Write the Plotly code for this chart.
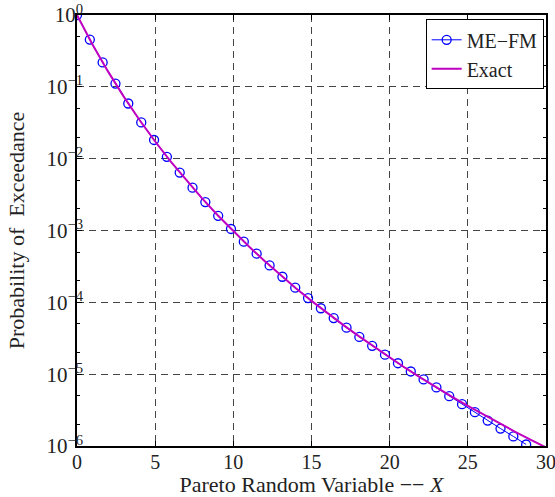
import plotly.graph_objects as go

# ME-FM approximation (markers)
x_mefm = [0, 0.82, 1.64, 2.46, 3.28, 4.11, 4.93, 5.75, 6.57, 7.39, 8.21, 9.03,
          9.85, 10.67, 11.49, 12.32, 13.14, 13.96, 14.78, 15.60, 16.42, 17.24,
          18.06, 18.88, 19.70, 20.53, 21.35, 22.17, 22.99, 23.81, 24.63, 25.45,
          26.27, 27.09, 27.91, 28.73]
y_mefm = [1.0, 0.455, 0.219, 0.111, 0.0586, 0.0320, 0.0182, 0.0106, 0.0064,
          0.00395, 0.00249, 0.00160, 0.00105, 7.0e-4, 4.76e-4, 3.26e-4, 2.27e-4,
          1.60e-4, 1.146e-4, 8.27e-5, 6.03e-5, 4.44e-5, 3.30e-5, 2.48e-5, 1.87e-5,
          1.42e-5, 1.09e-5, 8.45e-6, 6.53e-6, 4.94e-6, 3.82e-6, 2.96e-6, 2.26e-6,
          1.75e-6, 1.36e-6, 1.05e-6]

# Exact curve
x_exact = list(range(0, 31))
y_exact = [1.0, 0.3855, 0.1615, 0.07254, 0.03457, 0.01734, 0.009095, 0.004958,
           0.002803, 0.001631, 9.766e-4, 5.992e-4, 3.761e-4, 2.410e-4, 1.574e-4,
           1.049e-4, 7.105e-5, 4.889e-5, 3.412e-5, 2.413e-5, 1.694e-5, 1.22e-5,
           8.87e-6, 6.52e-6, 4.84e-6, 3.63e-6, 2.74e-6, 2.08e-6, 1.59e-6, 1.23e-6,
           9.54e-7]

x_ticks = [0, 5, 10, 15, 20, 25, 30]
y_tickvals = [1e-6, 1e-5, 1e-4, 1e-3, 1e-2, 1e-1, 1e0]
y_ticktext = ["10<sup>\u22126</sup>", "10<sup>\u22125</sup>", "10<sup>\u22124</sup>",
              "10<sup>\u22123</sup>", "10<sup>\u22122</sup>", "10<sup>\u22121</sup>",
              "10<sup>0</sup>"]

font_family = "Liberation Serif"

fig = go.Figure()
fig.add_trace(go.Scatter(
    x=x_mefm, y=y_mefm, name="ME\u2212FM", mode="lines+markers",
    line=dict(color="#0000ff", width=1),
    marker=dict(symbol="circle-open", size=9, color="#0000ff", line=dict(width=1.3)),
))
fig.add_trace(go.Scatter(
    x=x_exact, y=y_exact, name="Exact", mode="lines",
    line=dict(color="#c000c0", width=2),
))

axis_common = dict(
    showline=True, linecolor="black", linewidth=1.5, mirror="ticks",
    ticks="inside", ticklen=5, tickcolor="black",
    showgrid=True, gridcolor="#444444", gridwidth=1, griddash="7px,5px",
    zeroline=False, automargin=False, ticklabeloverflow="allow",
)

fig.update_xaxes(
    range=[0, 30], tickvals=x_ticks, ticklabelstandoff=-3,
    tickfont=dict(family=font_family, size=20, color="#222222"),
    title=dict(text="Pareto Random Variable \u2212\u2212 <i>X</i>",
               font=dict(family=font_family, size=22, color="#222222"), standoff=0),
    **axis_common,
)
fig.update_yaxes(
    type="log", range=[-6, 0], tickvals=y_tickvals, ticktext=y_ticktext,
    ticklabelstandoff=-12,
    tickfont=dict(family=font_family, size=21, color="#222222"),
    title=dict(text="Probability of  Exceedance",
               font=dict(family=font_family, size=22, color="#222222"), standoff=16),
    minor=dict(ticks="inside", ticklen=3, tickcolor="black", showgrid=False),
    **axis_common,
)

fig.update_layout(
    width=555, height=497,
    margin=dict(l=77, r=9, t=15, b=51),
    plot_bgcolor="white", paper_bgcolor="white",
    font=dict(family=font_family),
    legend=dict(
        x=0.995, y=0.99, xanchor="right", yanchor="top",
        bgcolor="white", bordercolor="black", borderwidth=1,
        font=dict(family=font_family, size=20, color="#222222"),
        tracegroupgap=0,
    ),
    showlegend=True,
)

fig.write_html("out.html")
